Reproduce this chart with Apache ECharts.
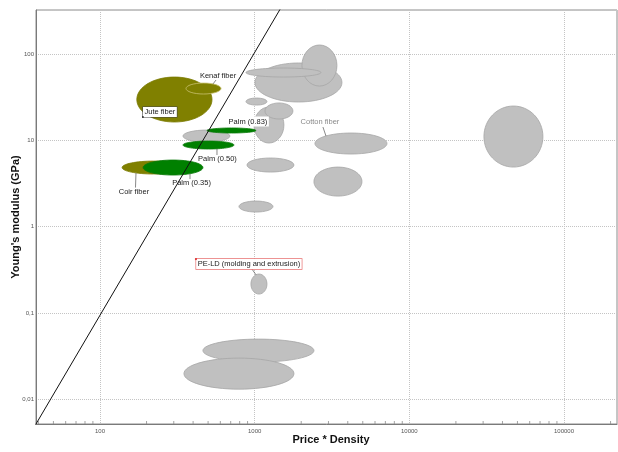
<!DOCTYPE html>
<html>
<head>
<meta charset="utf-8">
<script src="https://cdn.jsdelivr.net/npm/echarts@6/dist/echarts.min.js"></script>
<style>
  html, body { margin: 0; padding: 0; background: #ffffff; }
  #chart { width: 618px; height: 452px; }
</style>
</head>
<body>
<div id="chart"></div>
<script>
// Property ranges of each material: [min, max] of price * density (x) and Young's modulus in GPa (y)
const otherMaterials = ['', '', '', '', '', '', '', 'Cotton fiber', '', '', '', '', 'PE-LD (molding and extrusion)', '', ''];
const otherPriceDensity = [[344, 692], [1004, 3667], [2022, 3404], [879, 2683], [879, 1201], [990, 1546], [1166, 1768], [2454, 7166], [892, 1795], [2417, 4939], [792, 1313], [30360, 73050], [946, 1201], [463, 2417], [349, 1795]];
const otherModulus = [[9.55, 13.15], [27.8, 78.7], [42.5, 127.2], [54.1, 68.8], [25.6, 30.9], [9.3, 24.3], [17.65, 27.1], [6.94, 12.15], [4.29, 6.24], [2.26, 4.90], [1.476, 1.98], [4.90, 24.97], [0.1656, 0.2825], [0.027, 0.0498], [0.0131, 0.030]];

const naturalFibers = ['Jute fiber', 'Kenaf fiber', 'Coir fiber'];
const naturalPriceDensity = [[173, 530], [360, 606], [139, 354]];
const naturalModulus = [[16.3, 54.1], [34.4, 46.1], [4.07, 5.75]];

const palmGrades = ['Palm (0.35)', 'Palm (0.50)', 'Palm (0.83)'];
const palmPriceDensity = [[190, 463], [344, 735], [492, 1019]];
const palmModulus = [[3.96, 5.91], [7.93, 9.82], [12.15, 13.9]];

// Selection guideline (slope 3 on the log-log axes)
const guideline = [[20, 0.0007], [2000, 860]];

// Axis ticks
const xTicks = [100, 1000, 10000, 100000];
const xTickLabels = ['100', '1000', '10000', '100000'];
const yTicks = [0.01, 0.1, 1, 10, 100];
const yTickLabels = ['0,01', '0,1', '1', '10', '100'];
const minorMultiples = [2, 3, 4, 5, 6, 7, 8, 9];
const minorDecades = [10, 100, 1000, 10000, 100000];

const X_MIN = 38.58, X_MAX = 220100, Y_MIN = 0.005173, Y_MAX = 323.4;

// Label placement: text centre offset from the bubble centre (px), leader start offset
// from the text centre, and leader end x offset from the bubble centre
const labelLayout = {
  'Jute fiber':   { dx: -14.5, dy: 12.5, box: 'frame' },
  'Kenaf fiber':  { dx: 14.5, dy: -12.5, from: [-2, 4], toX: 9.5 },
  'Coir fiber':   { dx: -19.5, dy: 24.5, from: [1.5, -4.5], toX: -17.5 },
  'Palm (0.35)':  { dx: 18.5, dy: 15, from: [-1.5, -3.5], toX: 17 },
  'Palm (0.50)':  { dx: 9, dy: 13.5, from: [-0.5, -3.5], toX: 8.5 },
  'Palm (0.83)':  { dx: 16.5, dy: -9, box: 'plain' },
  'Cotton fiber': { dx: -31, dy: -21.5, from: [3, 5], toX: -25, color: '#8a8a8a' },
  'PE-LD (molding and extrusion)': { dx: -10, dy: -20, from: [3, 5], toX: -3, box: 'red' }
};

function rangeData(names, xr, yr) {
  return names.map((n, i) => ({ name: n, value: [xr[i][0], xr[i][1], yr[i][0], yr[i][1]] }));
}

const grayData = rangeData(otherMaterials, otherPriceDensity, otherModulus);
const oliveData = rangeData(naturalFibers, naturalPriceDensity, naturalModulus);
const greenData = rangeData(palmGrades, palmPriceDensity, palmModulus);
const labelData = grayData.concat(oliveData, greenData).filter(d => labelLayout[d.name]);

function bubbleGeom(api) {
  const p0 = api.coord([api.value(0), api.value(2)]);
  const p1 = api.coord([api.value(1), api.value(3)]);
  return {
    cx: (p0[0] + p1[0]) / 2,
    cy: (p0[1] + p1[1]) / 2,
    rx: Math.abs(p1[0] - p0[0]) / 2,
    ry: Math.abs(p1[1] - p0[1]) / 2
  };
}

function bubbleRenderer(items, fill, stroke, strokeOverrides) {
  return function (params, api) {
    const g = bubbleGeom(api);
    const name = items[params.dataIndex].name;
    return {
      type: 'ellipse',
      shape: g,
      style: {
        fill: fill,
        stroke: (strokeOverrides && strokeOverrides[name]) || stroke,
        lineWidth: 0.8
      }
    };
  };
}

function labelRenderer(params, api) {
  const g = bubbleGeom(api);
  const name = labelData[params.dataIndex].name;
  const lay = labelLayout[name];
  const tx = g.cx + lay.dx, ty = g.cy + lay.dy;
  const children = [];
  if (lay.from) {
    const sx = tx + lay.from[0], sy = ty + lay.from[1];
    const ex = g.cx + lay.toX;
    const k = Math.max(0, 1 - Math.pow(lay.toX / g.rx, 2));
    const off = g.ry * Math.sqrt(k);
    const ey = sy < g.cy ? g.cy - off : g.cy + off;
    children.push({
      type: 'line',
      shape: { x1: sx, y1: sy, x2: ex, y2: ey },
      style: { stroke: '#555555', lineWidth: 0.7 }
    });
  }
  const textStyle = {
    text: name,
    x: tx, y: ty,
    fill: lay.color || '#1a1a1a',
    font: '7.5px "Liberation Sans", Arial, sans-serif',
    align: 'center',
    verticalAlign: 'middle'
  };
  if (lay.box) {
    textStyle.backgroundColor = '#ffffff';
    textStyle.padding = [1, 1.5, 1, 1.5];
    if (lay.box === 'frame') { textStyle.borderColor = '#444444'; textStyle.borderWidth = 0.6; }
    if (lay.box === 'red') { textStyle.borderColor = '#e87070'; textStyle.borderWidth = 0.7; }
  }
  children.push({ type: 'text', style: textStyle });
  if (lay.box === 'frame') {
    children.push({ type: 'circle', shape: { cx: tx - 17, cy: ty + 5, r: 0.9 }, style: { fill: '#222' } });
  }
  if (lay.box === 'red') {
    children.push({ type: 'circle', shape: { cx: tx - 53, cy: ty - 5, r: 1.1 }, style: { fill: '#dd3333' } });
  }
  return { type: 'group', children: children };
}

const minorTickData = [];
minorDecades.forEach(d => minorMultiples.forEach(m => {
  const v = d * m;
  if (v > X_MIN && v < X_MAX) minorTickData.push([v, Y_MIN]);
}));

function tickFormatter(ticks, labels) {
  return function (v) {
    for (let i = 0; i < ticks.length; i++) {
      if (Math.abs(Math.log10(v) - Math.log10(ticks[i])) < 1e-6) return labels[i];
    }
    return '';
  };
}

const FONT = '"Liberation Sans", Arial, sans-serif';

const chart = echarts.init(document.getElementById('chart'), null, { renderer: 'canvas' });
chart.setOption({
  animation: false,
  backgroundColor: '#ffffff',
  grid: {
    left: 36, right: 1, top: 10, bottom: 28,
    outerBoundsMode: 'none', containLabel: false,
    show: true, borderColor: '#8c8c8c', borderWidth: 1
  },
  xAxis: {
    type: 'log', logBase: 10, min: X_MIN, max: X_MAX,
    name: 'Price * Density',
    nameLocation: 'middle', nameGap: 10, nameMoveOverlap: false,
    nameTextStyle: { fontFamily: FONT, fontWeight: 'bold', fontSize: 11, color: '#111', padding: [0, 0, 0, 9] },
    axisLine: { show: true, lineStyle: { color: '#7a7a7a', width: 1 } },
    axisTick: { show: false },
    axisLabel: { formatter: tickFormatter(xTicks, xTickLabels), fontFamily: FONT, fontSize: 6, color: '#555', margin: 4, showMinLabel: false, showMaxLabel: false },
    splitLine: { show: true, lineStyle: { color: '#c4c4c4', type: [1, 1], width: 1 } }
  },
  yAxis: {
    type: 'log', logBase: 10, min: Y_MIN, max: Y_MAX,
    name: "Young's modulus (GPa)",
    nameLocation: 'middle', nameGap: 15, nameMoveOverlap: false,
    nameTextStyle: { fontFamily: FONT, fontWeight: 'bold', fontSize: 11, color: '#111' },
    axisLine: { show: true, lineStyle: { color: '#7a7a7a', width: 1 } },
    axisTick: { show: false },
    axisLabel: { formatter: tickFormatter(yTicks, yTickLabels), fontFamily: FONT, fontSize: 6, color: '#555', margin: 2, showMinLabel: false, showMaxLabel: false },
    splitLine: { show: true, lineStyle: { color: '#c4c4c4', type: [1, 1], width: 1 } }
  },
  series: [
    {
      type: 'custom', name: 'other', z: 2,
      data: grayData, encode: { x: [0, 1], y: [2, 3] },
      renderItem: bubbleRenderer(grayData, '#c0c0c0', '#a6a6a6')
    },
    {
      type: 'custom', name: 'natural', z: 3,
      data: oliveData, encode: { x: [0, 1], y: [2, 3] },
      renderItem: bubbleRenderer(oliveData, '#808000', '#7a7a00', { 'Kenaf fiber': '#c8c070' })
    },
    {
      type: 'custom', name: 'palm', z: 4,
      data: greenData, encode: { x: [0, 1], y: [2, 3] },
      renderItem: bubbleRenderer(greenData, '#008000', '#0a7a0a')
    },
    {
      type: 'line', name: 'guideline', z: 5,
      data: guideline, symbol: 'none', clip: true,
      lineStyle: { color: '#111111', width: 1 }
    },
    {
      type: 'custom', name: 'labels', z: 6,
      data: labelData, encode: { x: [0, 1], y: [2, 3] },
      renderItem: labelRenderer
    },
    {
      type: 'custom', name: 'minorTicks', z: 7, silent: true,
      data: minorTickData, encode: { x: 0, y: 1 },
      renderItem: function (params, api) {
        const p = api.coord([api.value(0), api.value(1)]);
        return {
          type: 'line',
          shape: { x1: p[0], y1: p[1], x2: p[0], y2: p[1] - 3 },
          style: { stroke: '#8c8c8c', lineWidth: 0.8 }
        };
      }
    }
  ]
});
</script>
</body>
</html>
